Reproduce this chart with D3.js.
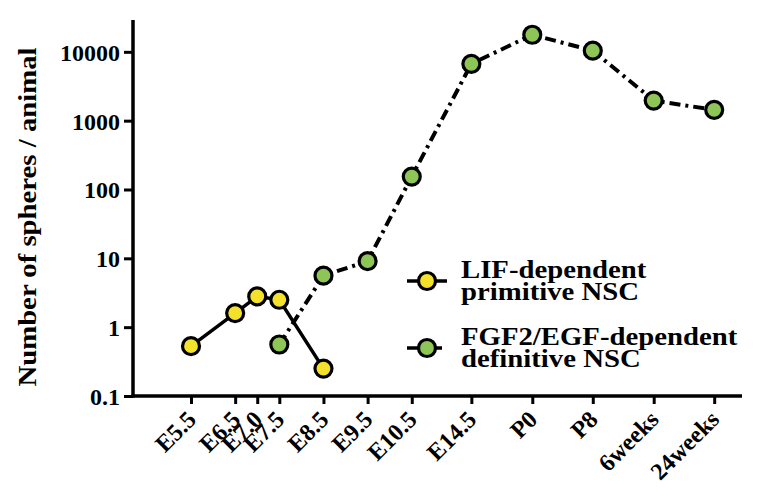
<!DOCTYPE html>
<html><head><meta charset="utf-8">
<script src="https://cdn.jsdelivr.net/npm/d3@7"></script>
<style>
html,body{margin:0;padding:0;background:#fff;}
text{font-family:"Liberation Serif","Times New Roman",serif;font-weight:bold;fill:#000;}
</style></head>
<body><svg id="chart" width="765" height="491"></svg>
<script>
// ---- data ----
const categories = ["E5.5","E6.5","E7.0","E7.5","E8.5","E9.5","E10.5","E14.5","P0","P8","6weeks","24weeks"];
const categorySlots = [0, 1, 1.5, 2, 3, 4, 5, 6.35, 7.73, 9.1, 10.48, 11.85];
const lifStages = ["E5.5","E6.5","E7.0","E7.5","E8.5"];
const lifValues = [0.53, 1.6, 2.8, 2.5, 0.25];
const fgfStages = ["E7.5","E8.5","E9.5","E10.5","E14.5","P0","P8","6weeks","24weeks"];
const fgfValues = [0.56, 5.6, 9.1, 154, 6700, 17700, 10400, 1960, 1435];
const yTicks = [0.1, 1, 10, 100, 1000, 10000];
const seriesNames = [["LIF-dependent","primitive NSC"],["FGF2/EGF-dependent","definitive NSC"]];

(function(){
const svg = d3.select("#chart");
const pL = 133, pR = 742, pT = 20, pB = 396;
const slotOf = c => categorySlots[categories.indexOf(c)];
const x = d3.scaleLinear().domain([-1.314, 12.48]).range([pL, pR]);
const y = d3.scaleLog().domain([0.1, 29000]).range([pB, pT]);

const yellow = "#f4e12c", green = "#8dc556";

// axes
const yAxis = d3.axisLeft(y).tickValues(yTicks).tickFormat(d => String(d)).tickSize(9).tickSizeOuter(0).tickPadding(4);
const gy = svg.append("g").attr("transform", `translate(${pL},0)`).call(yAxis);
gy.select(".domain").remove();
gy.selectAll(".tick line").attr("stroke","#000").attr("stroke-width",3);
gy.selectAll(".tick text").style("font-size","24px").attr("dy","0.35em");

const xAxis = d3.axisBottom(x).tickValues(categorySlots).tickFormat((d,i)=>categories[i]).tickSize(8).tickSizeOuter(0);
const gx = svg.append("g").attr("transform", `translate(0,${pB})`).call(xAxis);
gx.select(".domain").remove();
gx.selectAll(".tick line").attr("stroke","#000").attr("stroke-width",3);
gx.selectAll(".tick text").style("font-size","24px")
  .attr("text-anchor","end").attr("dy",null).attr("y",null)
  .attr("transform","translate(6,25) rotate(-45)");

svg.append("line").attr("x1",pL).attr("x2",pL).attr("y1",pT).attr("y2",pB+1.5)
  .attr("stroke","#000").attr("stroke-width",3.5);
svg.append("line").attr("x1",pL-1.5).attr("x2",pR).attr("y1",pB).attr("y2",pB)
  .attr("stroke","#000").attr("stroke-width",3.5);

// y label
svg.append("text").attr("transform","translate(36,217) rotate(-90) scale(1.15,1)")
  .attr("text-anchor","middle").style("font-size","25px").text("Number of spheres / animal");

// lines
const dashDot = "11,5,3,5";
const lineGen = d3.line().x(d=>x(slotOf(d[0]))).y(d=>y(d[1]));
const fgfData = fgfStages.map((s,i)=>[s,fgfValues[i]]);
const lifData = lifStages.map((s,i)=>[s,lifValues[i]]);
svg.append("path").datum(fgfData).attr("d",lineGen).attr("fill","none")
  .attr("stroke","#000").attr("stroke-width",4).attr("stroke-dasharray",dashDot);
svg.append("path").datum(lifData).attr("d",lineGen).attr("fill","none")
  .attr("stroke","#000").attr("stroke-width",3.5);

svg.selectAll(".pf").data(fgfData).enter().append("circle")
  .attr("cx",d=>x(slotOf(d[0]))).attr("cy",d=>y(d[1])).attr("r",8.5)
  .attr("fill",green).attr("stroke","#000").attr("stroke-width",3.2);
svg.selectAll(".pl").data(lifData).enter().append("circle")
  .attr("cx",d=>x(slotOf(d[0]))).attr("cy",d=>y(d[1])).attr("r",8.5)
  .attr("fill",yellow).attr("stroke","#000").attr("stroke-width",3.2);

// legend
const legY = [281, 348];
const legFill = [yellow, green];
const legDash = [null, dashDot];
legY.forEach((ly,i)=>{
  svg.append("line").attr("x1",407).attr("x2",447).attr("y1",ly).attr("y2",ly)
    .attr("stroke","#000").attr("stroke-width",3.5).attr("stroke-dasharray",legDash[i]);
  svg.append("circle").attr("cx",427).attr("cy",ly).attr("r",8.5)
    .attr("fill",legFill[i]).attr("stroke","#000").attr("stroke-width",3.2);
  seriesNames[i].forEach((t,j)=>{
    svg.append("text").attr("transform",`translate(461,${ly-3+j*22}) scale(1.15,1)`)
      .style("font-size","25px").text(t);
  });
});
})();
</script></body></html>
